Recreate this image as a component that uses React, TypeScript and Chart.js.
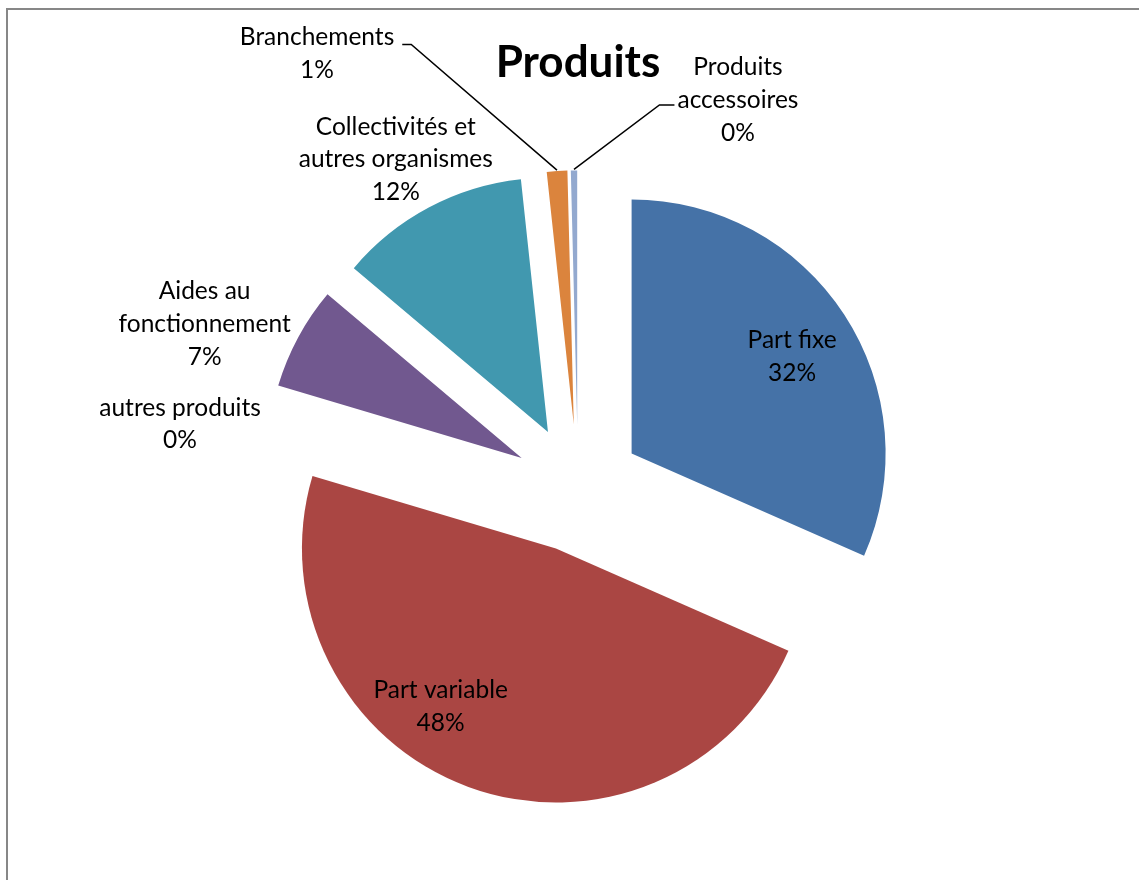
import { useEffect, useRef } from 'react';
import { Chart, registerables } from 'chart.js';

Chart.register(...registerables);

// ---------- data ----------
const titleText = 'Produits';
const categories = [
  'Part fixe',
  'Part variable',
  'autres produits',
  'Aides au fonctionnement',
  'Collectivités et autres organismes',
  'Branchements',
  'Produits accessoires',
];
const labelLines = [
  ['Part fixe'],
  ['Part variable'],
  ['autres produits'],
  ['Aides au', 'fonctionnement'],
  ['Collectivités et', 'autres organismes'],
  ['Branchements'],
  ['Produits', 'accessoires'],
];
const shares = [31.6, 48.0, 0, 6.55, 12.15, 1.3, 0.4];
const colors = ['#4572A7', '#AA4643', '#89A54E', '#71588F', '#4198AF', '#DB843D', '#93A9CF'];

// ---------- style / layout ----------
const EXPLODE = 64;
const RADIUS = 254;
const FONT = 'Lato, "Open Sans", sans-serif';
const LABEL_SIZE = 24.5;
const LINE_H = 32.7;
type Leader = { side: 'left' | 'right'; line: number; dy: number; gap: number; len: number };
const labelPlacement: { dAngle: number; dist: number; leader?: Leader }[] = [
  { dAngle: 1.5, dist: 0.99 },
  { dAngle: 12.0, dist: 1.016 },
  { dAngle: -7.4, dist: 1.587 },
  { dAngle: -4.6, dist: 1.606 },
  { dAngle: -1.0, dist: 1.48 },
  { dAngle: -27.2, dist: 1.996, leader: { side: 'right', line: 0, dy: 7, gap: 8, len: 9 } },
  { dAngle: 23.1, dist: 1.654, leader: { side: 'left', line: 1, dy: 5, gap: 3, len: 15 } },
];

const explodePlugin = {
  id: 'explodeArcs',
  beforeDatasetDraw(chart: any, args: any) {
    const ctx = chart.ctx;
    args.meta.data.forEach((arc: any) => {
      const mid = (arc.startAngle + arc.endAngle) / 2;
      ctx.save();
      ctx.translate(Math.cos(mid) * EXPLODE, Math.sin(mid) * EXPLODE);
      arc.draw(ctx);
      ctx.restore();
    });
    return false;
  },
};

const labelPlugin = {
  id: 'pieLabels',
  afterDatasetsDraw(chart: any) {
    const ctx = chart.ctx;
    const meta = chart.getDatasetMeta(0);
    const values = chart.data.datasets[0].data as number[];
    const total = values.reduce((a, b) => a + b, 0);
    ctx.save();
    ctx.font = `${LABEL_SIZE}px ${FONT}`;
    ctx.fillStyle = '#000';
    ctx.textAlign = 'center';
    ctx.textBaseline = 'middle';
    meta.data.forEach((arc: any, i: number) => {
      const place = labelPlacement[i];
      const mid = (arc.startAngle + arc.endAngle) / 2;
      const ang = mid + (place.dAngle * Math.PI) / 180;
      const r = place.dist * arc.outerRadius;
      const cx = arc.x + Math.cos(ang) * r;
      const cy = arc.y + Math.sin(ang) * r;
      const lines = [...labelLines[i], `${Math.round((values[i] / total) * 100)}%`];
      const y0 = cy - ((lines.length - 1) * LINE_H) / 2;
      lines.forEach((t, k) => ctx.fillText(t, cx, y0 + k * LINE_H));
      if (place.leader) {
        const L = place.leader;
        const w = ctx.measureText(lines[L.line]).width;
        const ly = y0 + L.line * LINE_H + L.dy;
        const sign = L.side === 'right' ? 1 : -1;
        const x1 = cx + sign * (w / 2 + L.gap);
        const x2 = x1 + sign * L.len;
        const er = EXPLODE + arc.outerRadius + 1;
        const ex = arc.x + Math.cos(mid) * er;
        const ey = arc.y + Math.sin(mid) * er;
        ctx.beginPath();
        ctx.strokeStyle = '#000';
        ctx.lineWidth = 1.5;
        ctx.moveTo(x1, ly);
        ctx.lineTo(x2, ly);
        ctx.lineTo(ex, ey);
        ctx.stroke();
      }
    });
    ctx.restore();
  },
};

export default function App() {
  const ref = useRef<HTMLCanvasElement | null>(null);
  useEffect(() => {
    if (!ref.current) return;
    const chart = new Chart(ref.current, {
      type: 'pie',
      data: {
        labels: categories,
        datasets: [
          {
            data: shares,
            backgroundColor: colors,
            borderWidth: 0,
            hoverOffset: 0,
            radius: RADIUS,
          } as any,
        ],
      },
      options: {
        responsive: false,
        animation: false,
        events: [],
        layout: { padding: { left: 17, right: 0, top: 0, bottom: 0 } },
        plugins: {
          legend: { display: false },
          tooltip: { enabled: false },
          title: {
            display: true,
            text: titleText,
            color: '#000',
            font: { family: FONT, size: 44, weight: 'bold', lineHeight: 1.2 },
            padding: { top: 36, bottom: 8 },
          },
        },
      } as any,
      plugins: [explodePlugin, labelPlugin],
    });
    return () => chart.destroy();
  }, []);

  return (
    <div style={{ position: 'fixed', left: 0, top: 0, width: 1139, height: 880, overflow: 'hidden', background: '#fff' }}>
      <div
        style={{
          position: 'absolute',
          left: 6,
          top: 8,
          width: 1200,
          height: 1000,
          border: '2px solid #878787',
        }}
      />
      <canvas ref={ref} width={1139} height={880} style={{ position: 'absolute', left: 0, top: 0 }} />
    </div>
  );
}
